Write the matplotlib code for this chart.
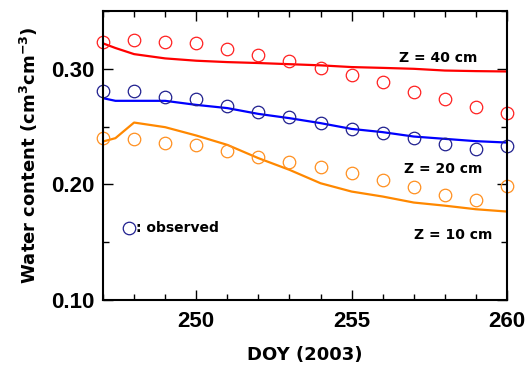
import matplotlib.pyplot as plt
from matplotlib.ticker import MultipleLocator

plt.rcParams['font.family'] = ['Liberation Sans', 'DejaVu Sans']
plt.rcParams['font.weight'] = 'bold'
plt.rcParams['mathtext.fontset'] = 'custom'
plt.rcParams['mathtext.bf'] = 'DejaVu Sans:bold'
plt.rcParams['mathtext.rm'] = 'DejaVu Sans:bold'

# observed soil water content (daily)
doy_obs = [247, 248, 249, 250, 251, 252, 253, 254, 255, 256, 257, 258, 259, 260]
obs_40 = [0.3236, 0.3250, 0.3228, 0.3222, 0.3173, 0.3120, 0.3070, 0.3010,
          0.2948, 0.2890, 0.2800, 0.2738, 0.2668, 0.2620]
obs_20 = [0.2812, 0.2812, 0.2760, 0.2738, 0.2680, 0.2630, 0.2580, 0.2527,
          0.2478, 0.2443, 0.2400, 0.2348, 0.2307, 0.2336]
obs_10 = [0.2405, 0.2391, 0.2362, 0.2342, 0.2290, 0.2241, 0.2197, 0.2149,
          0.2097, 0.2039, 0.1981, 0.1909, 0.1866, 0.1990]

# simulated
doy_sim = [247, 247.4, 248, 249, 250, 251, 252, 253, 254, 255, 256, 257, 258, 259, 260]
sim_40 = [0.3220, 0.3180, 0.3127, 0.3090, 0.3070, 0.3058, 0.3050, 0.3040, 0.3030,
          0.3015, 0.3008, 0.3000, 0.2985, 0.2980, 0.2977]
sim_20 = [0.2746, 0.2723, 0.2723, 0.2723, 0.2688, 0.2660, 0.2610, 0.2573, 0.2530,
          0.2480, 0.2452, 0.2414, 0.2394, 0.2374, 0.2362]
sim_10 = [0.2371, 0.2400, 0.2535, 0.2495, 0.2423, 0.2342, 0.2227, 0.2126, 0.2010,
          0.1938, 0.1895, 0.1843, 0.1816, 0.1785, 0.1765]

fig = plt.figure(figsize=(5.29, 3.67), dpi=100)
ax = fig.add_axes([0.1947, 0.1826, 0.7637, 0.7874])

ax.plot(doy_sim, sim_40, color='#ff0000', lw=1.6)
ax.plot(doy_sim, sim_20, color='#0000ff', lw=1.6)
ax.plot(doy_sim, sim_10, color='#ff8800', lw=1.6)

mk = dict(ls='none', marker='o', ms=9, mfc='none', mew=0.9, clip_on=False)
ax.plot(doy_obs, obs_40, mec='#ff2020', **mk)
ax.plot(doy_obs, obs_20, mec='#20208f', **mk)
ax.plot(doy_obs, obs_10, mec='#ff9020', **mk)

ax.set_xlim(247, 260)
ax.set_ylim(0.10, 0.35)
ax.xaxis.set_minor_locator(MultipleLocator(1))
ax.yaxis.set_minor_locator(MultipleLocator(0.05))
ax.set_xticks([250, 255, 260])
ax.set_yticks([0.10, 0.20, 0.30])
ax.set_yticklabels(['0.10', '0.20', '0.30'])
ax.tick_params(which='both', direction='in', top=True, right=True, width=1)
ax.tick_params(which='major', length=7, labelsize=16)
ax.tick_params(axis='x', which='major', pad=8)
ax.tick_params(axis='y', which='major', pad=6)
ax.tick_params(which='minor', length=4)
for s in ax.spines.values():
    s.set_linewidth(1.5)

lab = dict(fontsize=13, fontweight='bold', family='DejaVu Sans')
ax.set_xlabel('DOY (2003)', labelpad=10, **lab)
ax.set_ylabel('Water content (cm$^{3}$cm$^{-3}$)', labelpad=8, **lab)

ann = dict(fontsize=10, fontweight='bold', family='DejaVu Sans', ha='center', va='center')
ax.text(257.78, 0.3095, 'Z = 40 cm', **ann)
ax.text(257.94, 0.2134, 'Z = 20 cm', **ann)
ax.text(258.26, 0.1563, 'Z = 10 cm', **ann)
ax.plot([247.83], [0.1623], marker='o', ms=9, mfc='none', mec='#20208f', mew=0.9)
ax.text(248.05, 0.1623, ': observed', fontsize=10, fontweight='bold',
        family='DejaVu Sans', va='center')

fig.savefig('out.png', dpi=100)
